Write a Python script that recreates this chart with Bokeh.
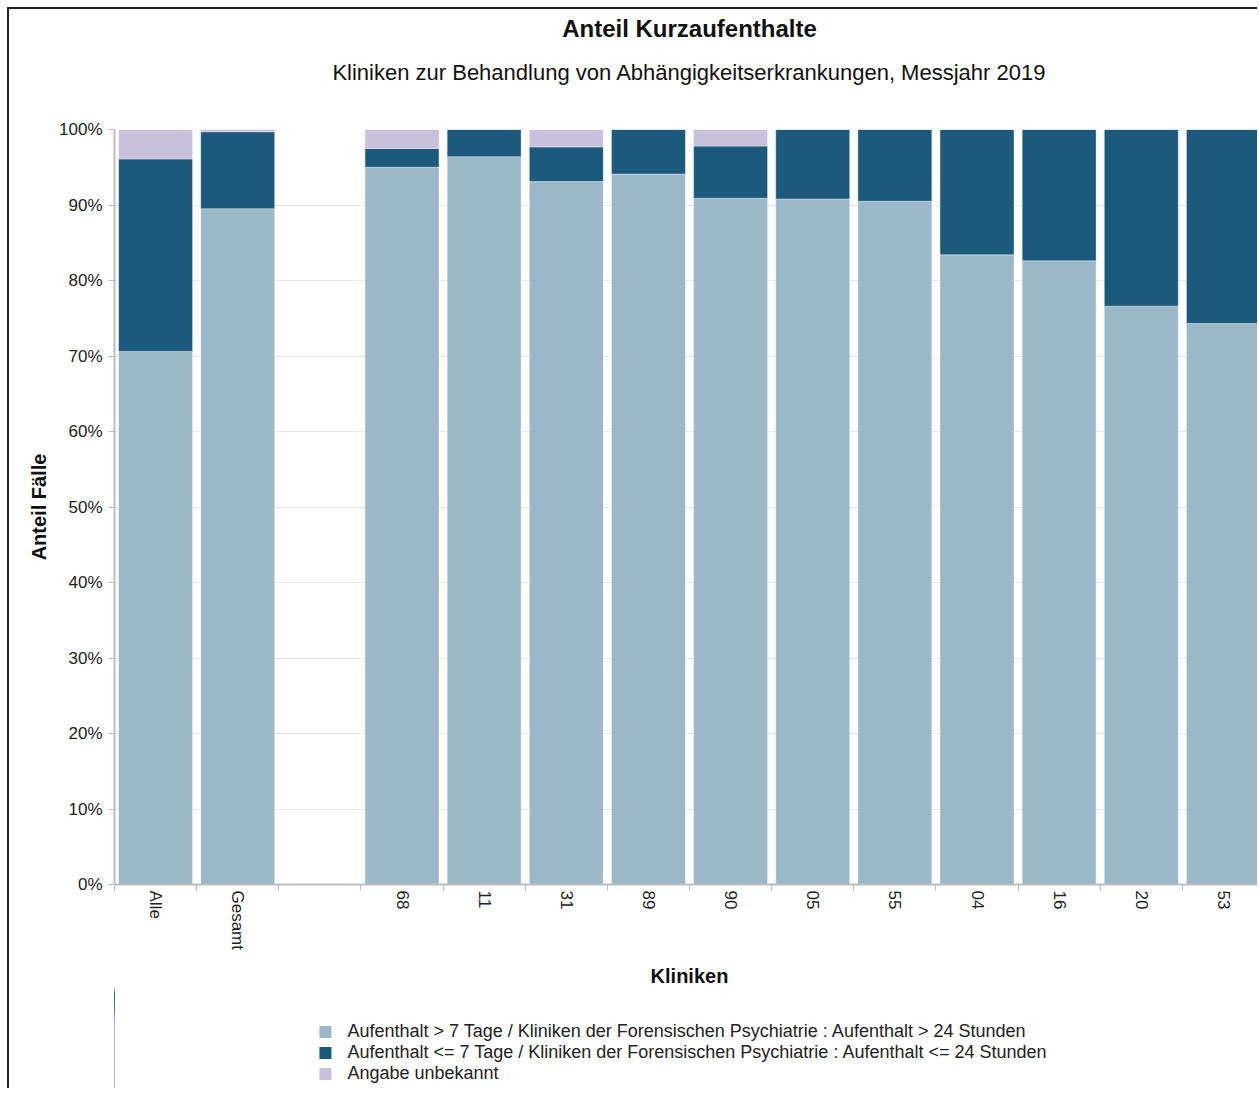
from bokeh.plotting import figure
from bokeh.layouts import column
from bokeh.models import (ColumnDataSource, FixedTicker, Range1d, PrintfTickFormatter,
                          Legend, LegendItem, Title)
from bokeh.embed import file_html
from bokeh.resources import INLINE

# ---- data ----
tick_labels = ["Alle", "Gesamt", "", "68", "11", "31", "89", "90", "05", "55", "04", "16", "20", "53"]
bar_cats = ["Alle", "Gesamt", "68", "11", "31", "89", "90", "05", "55", "04", "16", "20", "53"]
long_stay = [70.6, 89.5, 95.0, 96.4, 93.1, 94.1, 90.9, 90.8, 90.5, 83.4, 82.6, 76.6, 74.3]
short_stay = [25.5, 10.2, 2.5, 3.6, 4.6, 5.9, 6.9, 9.2, 9.5, 16.6, 17.4, 23.4, 25.7]
unknown = [3.9, 0.3, 2.5, 0.0, 2.3, 0.0, 2.2, 0.0, 0.0, 0.0, 0.0, 0.0, 0.0]
series_names = [
    "Aufenthalt > 7 Tage / Kliniken der Forensischen Psychiatrie : Aufenthalt > 24 Stunden",
    "Aufenthalt <= 7 Tage / Kliniken der Forensischen Psychiatrie : Aufenthalt <= 24 Stunden",
    "Angabe unbekannt",
]
colors = ["#9BB8C9", "#1B5A7D", "#C9C0DB"]
y_ticks = list(range(0, 101, 10))

FONT = "Liberation Sans"

x_pos = [tick_labels.index(c) for c in bar_cats]
source = ColumnDataSource(dict(x=x_pos, long=long_stay, short=short_stay, unk=unknown))

# ---------------- main chart ----------------
p = figure(frame_width=1148, frame_height=753, output_backend="svg", toolbar_location=None,
           x_range=Range1d(-0.5, len(tick_labels) - 0.5), y_range=Range1d(0, 100),
           min_border_left=93, min_border_right=7, min_border_top=120, min_border_bottom=0,
           outline_line_color=None)
p.styles = {"border-left": "2px solid #222", "border-top": "2px solid #222",
            "margin-left": "7px", "margin-top": "7px"}

p.vbar_stack(["long", "short", "unk"], x="x", width=0.9, color=colors,
             line_color="white", line_alpha=0.35, line_width=1, source=source)


def spacer(size):
    # tiny white title used only to reserve vertical space in the title panel
    return Title(text=".", text_font_size="2px", text_color="white", standoff=size)


# titles (stacked outward from the plot frame)
p.add_layout(spacer(40), "above")
p.add_layout(Title(text="Kliniken zur Behandlung von Abhängigkeitserkrankungen, Messjahr 2019",
                   align="center", text_font=FONT, text_font_size="22px", text_font_style="normal",
                   text_color="#111", standoff=4), "above")
p.add_layout(spacer(11), "above")
p.add_layout(Title(text="Anteil Kurzaufenthalte", align="center", text_font=FONT,
                   text_font_size="24px", text_font_style="bold", text_color="#111", standoff=0),
             "above")

# y axis
yax = p.yaxis[0]
yax.ticker = FixedTicker(ticks=y_ticks)
yax.formatter = PrintfTickFormatter(format="%d%%")
yax.axis_label = "Anteil Fälle"
yax.axis_label_text_font = FONT
yax.axis_label_text_font_size = "20px"
yax.axis_label_text_font_style = "bold"
yax.axis_label_text_color = "#111"
yax.axis_label_standoff = 6
yax.major_label_text_font = FONT
yax.major_label_text_font_size = "17px"
yax.major_label_text_color = "#222"
yax.major_tick_out = 6
yax.major_tick_in = 0
yax.minor_tick_line_color = None
yax.major_tick_line_color = "#BDBDBD"
yax.axis_line_color = "#BDBDBD"
yax.axis_line_width = 2
yax.major_label_standoff = 6

# x axis
xax = p.xaxis[0]
n = len(tick_labels)
xax.ticker = FixedTicker(ticks=list(range(n)), minor_ticks=[i - 0.5 for i in range(n + 1)])
xax.major_label_overrides = {i: lab for i, lab in enumerate(tick_labels)}
xax.major_label_orientation = "vertical"
xax.major_label_text_font = FONT
xax.major_label_text_font_size = "17px"
xax.major_label_text_color = "#222"
xax.major_tick_line_color = None
xax.minor_tick_line_color = "#BDBDBD"
xax.minor_tick_out = 6
xax.minor_tick_in = 0
xax.axis_line_color = "#BDBDBD"
xax.axis_line_width = 2
xax.major_label_standoff = 0
xax.axis_label = "Kliniken"
xax.axis_label_text_font = FONT
xax.axis_label_text_font_size = "20px"
xax.axis_label_text_font_style = "bold"
xax.axis_label_text_color = "#111"
xax.axis_label_standoff = 12

p.xgrid.grid_line_color = None
p.ygrid.grid_line_color = "#E8E8E8"
p.ygrid.ticker = FixedTicker(ticks=y_ticks)

# ---------------- legend strip below the chart ----------------
q = figure(width=1248, height=100, output_backend="svg", toolbar_location=None,
           x_range=Range1d(len(tick_labels), len(tick_labels) + 1), y_range=Range1d(0, 100),
           x_axis_location=None, y_axis_location=None,
           min_border_left=105, min_border_right=7, min_border_top=0, min_border_bottom=0,
           outline_line_color=None)
q.styles = {"border-left": "2px solid #222", "margin-left": "7px"}
q.xgrid.grid_line_color = None
q.ygrid.grid_line_color = None
# same bars (outside the visible range) so that the legend can show their swatches
leg_renderers = q.vbar_stack(["long", "short", "unk"], x="x", width=0.9, color=colors,
                             line_color=None, source=source)

legend = Legend(items=[LegendItem(label=series_names[i], renderers=[leg_renderers[i]])
                       for i in range(3)],
                location="top_center", orientation="vertical",
                label_text_font=FONT, label_text_font_size="18px", label_text_color="#222",
                glyph_width=15, glyph_height=15, label_height=16, spacing=0,
                label_standoff=15, padding=0, margin=33,
                border_line_color=None, background_fill_alpha=0)
q.add_layout(legend)

layout = column(p, q, spacing=0)

open("out.html", "w").write(file_html(layout, INLINE))
